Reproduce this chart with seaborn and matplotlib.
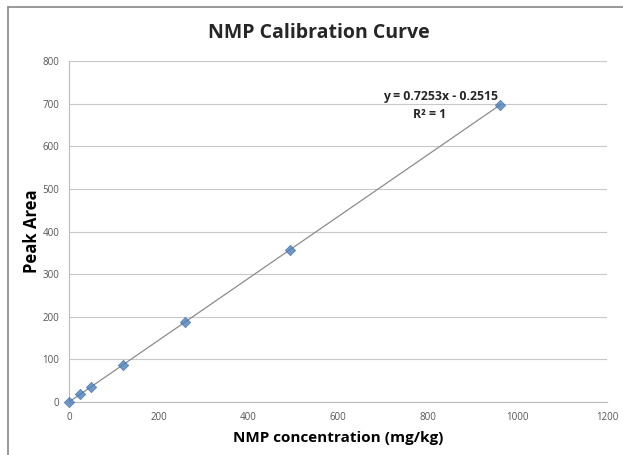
import matplotlib
matplotlib.use("Agg")
import matplotlib.pyplot as plt
import seaborn as sns
import pandas as pd
from matplotlib.lines import Line2D

concentration = [0, 25, 50, 120, 258, 492, 962]
peak_area = [0, 18, 36, 87, 187, 357, 697]
x_ticks = [0, 200, 400, 600, 800, 1000, 1200]
y_ticks = [0, 100, 200, 300, 400, 500, 600, 700, 800]
title = "NMP Calibration Curve"
x_label = "NMP concentration (mg/kg)"
y_label = "Peak Area"
equation = "y = 0.7253x - 0.2515"
r2 = "R² = 1"

df = pd.DataFrame({"conc": concentration, "area": peak_area})

sns.set_theme(style="white")
plt.rcParams['font.family'] = ['Open Sans', 'DejaVu Sans']

fig = plt.figure(figsize=(6.23, 4.55), dpi=100)
ax = fig.add_axes([69/623, 1-402/455, (607-69)/623, (402-61)/455])

# outer border
fig.add_artist(Line2D([8/623, 8/623], [0, 1-7/455], transform=fig.transFigure, color="#888888", lw=1.2))
fig.add_artist(Line2D([8/623, 1], [1-7/455, 1-7/455], transform=fig.transFigure, color="#888888", lw=1.2))

sns.regplot(data=df, x="conc", y="area", ax=ax, ci=None,
            marker="D", scatter_kws=dict(s=28, color="#4a7ebb", edgecolor="#3a6aa8", linewidths=0.5, zorder=3, clip_on=False),
            line_kws=dict(color="#8c8c8c", lw=0.9, zorder=2))

ax.set_xlim(0, 1200)
ax.set_ylim(0, 800)
ax.set_xticks(x_ticks)
ax.set_yticks(y_ticks)
ax.tick_params(axis="both", labelsize=7, colors="#555555", length=3, width=0.8, direction="out", pad=4)
ax.tick_params(axis="both", color="#bbbbbb")
ax.yaxis.grid(True, color="#c8c8c8", lw=0.8)
ax.set_axisbelow(True)
for s in ["top", "right"]:
    ax.spines[s].set_visible(False)
for s in ["left", "bottom"]:
    ax.spines[s].set_color("#bbbbbb")
    ax.spines[s].set_linewidth(0.8)

ax.set_xlabel(x_label, fontsize=11, fontweight="bold", color="black", labelpad=6)
ax.set_ylabel(y_label, fontsize=12, fontweight="bold", color="black", labelpad=1)
fig.text(319/623, 1-33/455, title, ha="center", va="center", fontsize=14, fontweight="bold")

ax.text(828, 716, equation, ha="center", va="center", fontsize=8.8, fontweight="bold")
ax.text(805, 674, r2, ha="center", va="center", fontsize=8.8, fontweight="bold")

fig.savefig("out.png", dpi=100)
